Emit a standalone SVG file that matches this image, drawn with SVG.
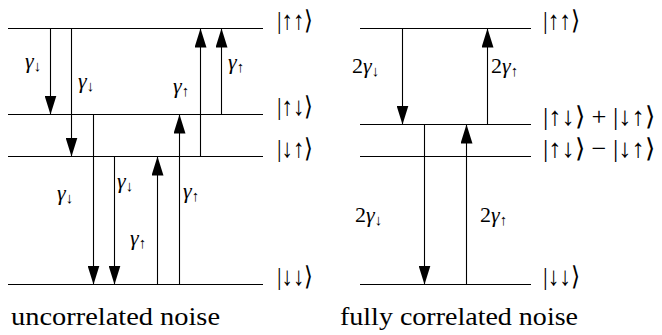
<svg xmlns="http://www.w3.org/2000/svg" width="662" height="335" viewBox="0 0 662 335">
<style>
.lvl{stroke:#000;stroke-width:1.1;fill:none}
.arr{stroke:#000;stroke-width:1.1;fill:none;marker-end:url(#ah)}
</style>
<defs>
<marker id="ah" markerUnits="userSpaceOnUse" markerWidth="19" markerHeight="12" refX="19" refY="6" orient="auto">
<path d="M0,0 L19,6 L0,12 Z" fill="#000"/>
</marker>
</defs>
<rect width="662" height="335" fill="#fff"/>
<g id="left-uu"><line class="lvl" x1="8" y1="28.5" x2="263" y2="28.5"/><text style="font-family:'Liberation Serif',serif;font-size:26px" x="277" y="29" textLength="36" lengthAdjust="spacingAndGlyphs">|↑↑⟩</text></g>
<g id="left-ud"><line class="lvl" x1="8" y1="114.5" x2="263" y2="114.5"/><text style="font-family:'Liberation Serif',serif;font-size:26px" x="277" y="115" textLength="36" lengthAdjust="spacingAndGlyphs">|↑↓⟩</text></g>
<g id="left-du"><line class="lvl" x1="8" y1="156.5" x2="263" y2="156.5"/><text style="font-family:'Liberation Serif',serif;font-size:26px" x="277" y="157" textLength="36" lengthAdjust="spacingAndGlyphs">|↓↑⟩</text></g>
<g id="left-dd"><line class="lvl" x1="8" y1="284.5" x2="263" y2="284.5"/><text style="font-family:'Liberation Serif',serif;font-size:26px" x="277" y="285" textLength="36" lengthAdjust="spacingAndGlyphs">|↓↓⟩</text></g>
<g id="right-uu"><line class="lvl" x1="360" y1="28.5" x2="531" y2="28.5"/><text style="font-family:'Liberation Serif',serif;font-size:26px" x="543" y="29" textLength="37" lengthAdjust="spacingAndGlyphs">|↑↑⟩</text></g>
<g id="right-plus"><line class="lvl" x1="360" y1="124.5" x2="531" y2="124.5"/><text style="font-family:'Liberation Serif',serif;font-size:26px" x="543" y="125" textLength="112" lengthAdjust="spacingAndGlyphs">|↑↓⟩ + |↓↑⟩</text></g>
<g id="right-minus"><line class="lvl" x1="360" y1="156.5" x2="531" y2="156.5"/><text style="font-family:'Liberation Serif',serif;font-size:26px" x="543" y="157" textLength="112" lengthAdjust="spacingAndGlyphs">|↑↓⟩ − |↓↑⟩</text></g>
<g id="right-dd"><line class="lvl" x1="360" y1="284.5" x2="531" y2="284.5"/><text style="font-family:'Liberation Serif',serif;font-size:26px" x="543" y="285" textLength="37" lengthAdjust="spacingAndGlyphs">|↓↓⟩</text></g>
<g id="connectors">
<line class="arr" x1="50.5" y1="28.5" x2="50.5" y2="114.5"/>
<line class="arr" x1="71.5" y1="28.5" x2="71.5" y2="156.5"/>
<line class="arr" x1="93.5" y1="114.5" x2="93.5" y2="284.5"/>
<line class="arr" x1="114.5" y1="156.5" x2="114.5" y2="284.5"/>
<line class="arr" x1="157.5" y1="284.5" x2="157.5" y2="156.5"/>
<line class="arr" x1="179.5" y1="284.5" x2="179.5" y2="114.5"/>
<line class="arr" x1="200.5" y1="156.5" x2="200.5" y2="28.5"/>
<line class="arr" x1="221.5" y1="114.5" x2="221.5" y2="28.5"/>
<line class="arr" x1="402.5" y1="28.5" x2="402.5" y2="124.5"/>
<line class="arr" x1="487.5" y1="124.5" x2="487.5" y2="28.5"/>
<line class="arr" x1="424.5" y1="124.5" x2="424.5" y2="284.5"/>
<line class="arr" x1="466.5" y1="284.5" x2="466.5" y2="124.5"/>
</g>
<g id="labels" style="font-family:'Liberation Serif',serif;font-size:22px">
<text x="25" y="68"><tspan font-style="italic">γ</tspan><tspan font-size="15" dy="3">↓</tspan></text>
<text x="78" y="88"><tspan font-style="italic">γ</tspan><tspan font-size="15" dy="3">↓</tspan></text>
<text x="57" y="200"><tspan font-style="italic">γ</tspan><tspan font-size="15" dy="3">↓</tspan></text>
<text x="117" y="188"><tspan font-style="italic">γ</tspan><tspan font-size="15" dy="3">↓</tspan></text>
<text x="130" y="245"><tspan font-style="italic">γ</tspan><tspan font-size="15" dy="3">↑</tspan></text>
<text x="183" y="198"><tspan font-style="italic">γ</tspan><tspan font-size="15" dy="3">↑</tspan></text>
<text x="173" y="93"><tspan font-style="italic">γ</tspan><tspan font-size="15" dy="3">↑</tspan></text>
<text x="228" y="69"><tspan font-style="italic">γ</tspan><tspan font-size="15" dy="3">↑</tspan></text>
<text x="352" y="73">2<tspan font-style="italic">γ</tspan><tspan font-size="15" dy="3">↓</tspan></text>
<text x="491" y="73">2<tspan font-style="italic">γ</tspan><tspan font-size="15" dy="3">↑</tspan></text>
<text x="355" y="222">2<tspan font-style="italic">γ</tspan><tspan font-size="15" dy="3">↓</tspan></text>
<text x="480" y="222">2<tspan font-style="italic">γ</tspan><tspan font-size="15" dy="3">↑</tspan></text>
</g>
<text style="font-family:'Liberation Serif',serif;font-size:25px" x="11" y="325" textLength="209" lengthAdjust="spacingAndGlyphs">uncorrelated noise</text>
<text style="font-family:'Liberation Serif',serif;font-size:25px" x="340" y="325" textLength="238" lengthAdjust="spacingAndGlyphs">fully correlated noise</text>
</svg>
